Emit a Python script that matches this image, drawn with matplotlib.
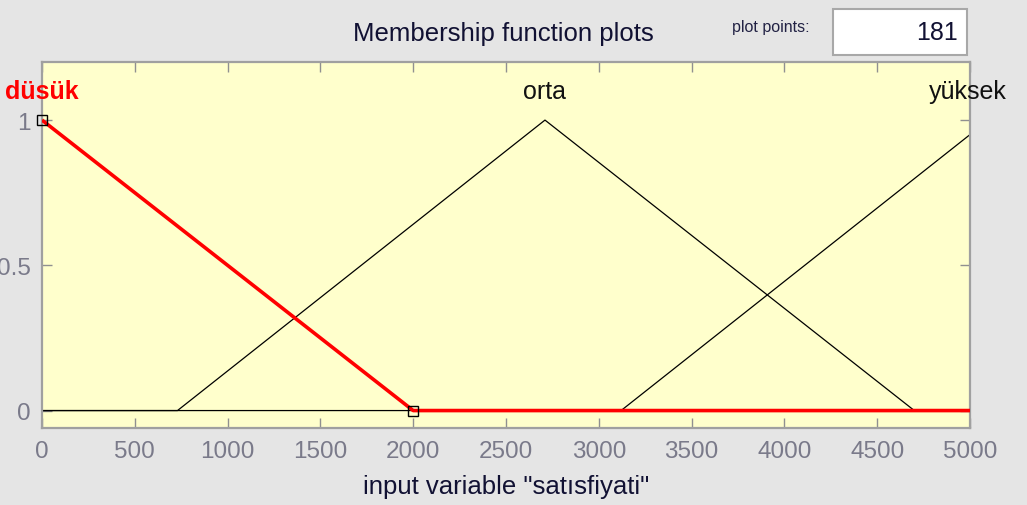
import matplotlib
matplotlib.use("Agg")
import matplotlib.pyplot as plt
from matplotlib.patches import Rectangle

# ---- data ----
mf_names = ["düsük", "orta", "yüksek"]
dusuk_x = [0, 2000, 5000]
dusuk_y = [1, 0, 0]
orta_x = [0, 730, 2710, 4700, 5000]
orta_y = [0, 0, 1, 0, 0]
yuksek_x = [0, 3120, 5000]
yuksek_y = [0, 0, 0.95]
label_x = [0, 2710, 4990]
selected_x = [0, 2000]
selected_y = [1, 0]
xticks = [0, 500, 1000, 1500, 2000, 2500, 3000, 3500, 4000, 4500, 5000]
yticks = [0, 0.5, 1]
plot_points = "181"

plt.rcParams['font.family'] = ['Liberation Sans', 'DejaVu Sans']

fig = plt.figure(figsize=(10.27, 5.06), dpi=100, facecolor='#e5e5e5')
ax = fig.add_axes([0.0409, 0.1522, 0.9036, 0.7233])
ax.set_facecolor('#ffffcc')

ax.plot(orta_x, orta_y, color='black', lw=0.9, zorder=2)
ax.plot(yuksek_x, yuksek_y, color='black', lw=0.9, zorder=2)
ax.plot(dusuk_x, dusuk_y, color='#ff0000', lw=2.6, zorder=3, solid_capstyle='butt')
ax.plot(selected_x, selected_y, linestyle='none', marker='s', markersize=6.5,
        markerfacecolor='none', markeredgecolor='black', markeredgewidth=1.0, zorder=4,
        clip_on=False)

ax.set_xlim(0, 5000)
ax.set_ylim(-0.06, 1.2)
ax.set_xticks(xticks)
ax.set_xticklabels([str(t) for t in xticks])
ax.set_yticks(yticks)
ax.set_yticklabels(['0', '0.5', '1'])
ax.tick_params(axis='both', direction='in', length=7, width=1, color='#909090',
               labelcolor='#7a7a8a', labelsize=17.5, top=True, right=True)
ax.tick_params(axis='x', pad=9)
ax.tick_params(axis='y', pad=8)

for s in ax.spines.values():
    s.set_color('#a0a0a0')
    s.set_linewidth(1.6)

# MF labels
ax.text(label_x[0], 1.1, mf_names[0], color='#ff0000', fontsize=18, fontweight='bold',
        ha='center', va='center', clip_on=False)
ax.text(label_x[1], 1.1, mf_names[1], color='#111111', fontsize=18,
        ha='center', va='center', clip_on=False)
ax.text(label_x[2], 1.1, mf_names[2], color='#111111', fontsize=18,
        ha='center', va='center', clip_on=False)

ax.set_xlabel('input variable "satısfiyati"', fontsize=18.5, color='#111133', labelpad=8)

fig.text(0.49, 0.933, 'Membership function plots', fontsize=18.5, color='#111133',
         ha='center', va='center')
fig.text(0.751, 0.945, 'plot points:', fontsize=11.5, color='#222244',
         ha='center', va='center')
box = Rectangle((833/1027, 1-56/506), 134/1027, 46/506, transform=fig.transFigure,
                facecolor='white', edgecolor='#a8a8a8', lw=1.5)
fig.patches.append(box)
fig.text(958/1027, 1-33/506, plot_points, fontsize=18, color='#111133',
         ha='right', va='center')

fig.savefig('out.png', dpi=100, facecolor=fig.get_facecolor())
